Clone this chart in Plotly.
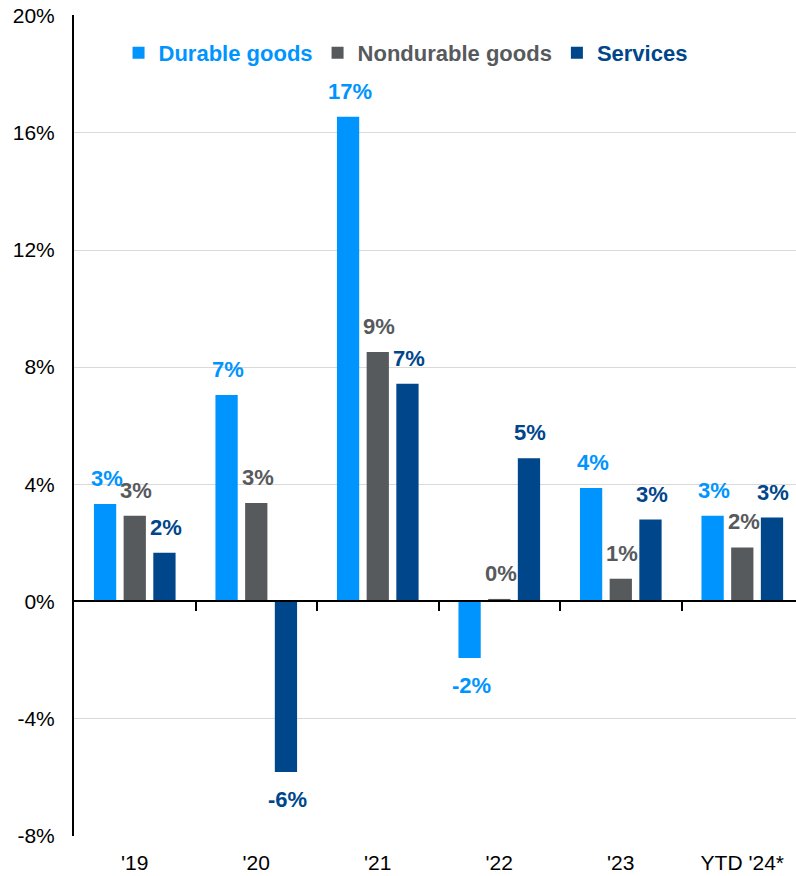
import math
import plotly.graph_objects as go

categories = ["'19", "'20", "'21", "'22", "'23", "YTD '24*"]
durable = [3.32, 7.05, 16.55, -1.94, 3.87, 2.92]
nondurable = [2.92, 3.36, 8.52, 0.08, 0.77, 1.84]
services = [1.66, -5.83, 7.43, 4.89, 2.79, 2.86]
series_names = ["Durable goods", "Nondurable goods", "Services"]
colors = ["#0094FF", "#575A5D", "#00468B"]
y_ticks = [-8, -4, 0, 4, 8, 12, 16, 20]
y_tick_text = ["-8%", "-4%", "0%", "4%", "8%", "12%", "16%", "20%"]

FONT = "Liberation Sans, Arial, sans-serif"
fig = go.Figure()
all_vals = [durable, nondurable, services]
for name, vals, col in zip(series_names, all_vals, colors):
    fig.add_trace(go.Bar(
        x=categories, y=vals,
        name=f'<span style="color:{col}"><b>{name}</b></span>',
        marker=dict(color=col, line=dict(width=0)),
        hoverinfo="skip",
    ))

# zero line axis helper trace (invisible)
fig.add_trace(go.Scatter(x=[0], y=[0], xaxis="x2", mode="markers",
                         marker=dict(opacity=0), showlegend=False, hoverinfo="skip"))


def fmt(v):
    r = math.floor(abs(v) + 0.5)
    return f"{'-' if v < 0 and r != 0 else ''}{r}%"


pitch = 29.7
annotations = []
for i, (vals, col) in enumerate(zip(all_vals, colors)):
    for c, v in zip(categories, vals):
        pos = v >= 0
        annotations.append(dict(
            x=c, y=v, xref="x", yref="y",
            text=f"<b>{fmt(v)}</b>",
            showarrow=False,
            xshift=(i - 1) * pitch + 1.5,
            yshift=11 if pos else -13,
            yanchor="bottom" if pos else "top",
            font=dict(family=FONT, size=22, color=col),
        ))

fig.update_layout(
    width=796, height=876,
    margin=dict(l=74, r=0, t=15, b=40, autoexpand=False),
    paper_bgcolor="white", plot_bgcolor="white",
    barmode="group", bargap=0.267, bargroupgap=0.25,
    font=dict(family=FONT, size=21, color="black"),
    showlegend=True,
    legend=dict(orientation="h", x=0.0617, xanchor="left", y=0.9537, yanchor="middle",
                bgcolor="rgba(0,0,0,0)", font=dict(family=FONT, size=22),
                traceorder="normal"),
    annotations=annotations,
    xaxis=dict(
        type="category", categoryorder="array", categoryarray=categories,
        range=[-0.5, 5.442], showline=False, showgrid=False, zeroline=False,
        ticks="", tickfont=dict(family=FONT, size=21, color="black"),
        ticklabelstandoff=12, automargin=False, ticklabeloverflow="allow",
    ),
    xaxis2=dict(
        type="linear", overlaying="x", anchor="free", position=8.02 / 28.05,
        range=[-0.5, 5.442], showline=True, linecolor="black", linewidth=2,
        ticks="outside", ticklen=9, tickwidth=2, tickcolor="black",
        tickmode="array", tickvals=[0.5, 1.5, 2.5, 3.5, 4.5],
        showticklabels=False, showgrid=False, zeroline=False, automargin=False,
    ),
    yaxis=dict(
        range=[-8.02, 20.03], tickmode="array", tickvals=y_ticks, ticktext=y_tick_text,
        showgrid=True, gridcolor="#D9D9D9", gridwidth=1,
        zeroline=False, showline=True, linecolor="black", linewidth=2,
        ticks="", tickfont=dict(family=FONT, size=21, color="black"),
        ticklabelstandoff=13, automargin=False, ticklabeloverflow="allow",
    ),
)

fig.write_html(
    "out.html",
    config={"displayModeBar": False},
    post_script="document.body.style.margin='0';document.body.style.overflow='hidden';",
)
